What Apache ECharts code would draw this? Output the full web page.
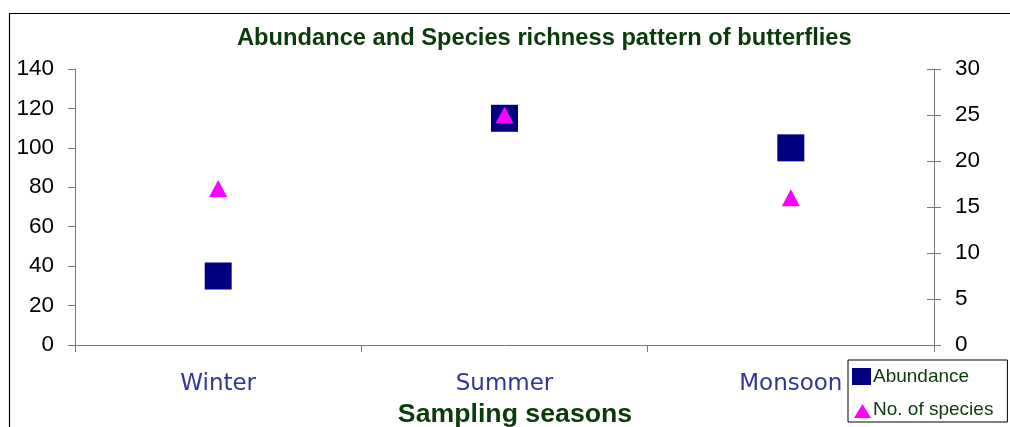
<!DOCTYPE html>
<html>
<head>
<meta charset="utf-8">
<style>
  html, body { margin: 0; padding: 0; background: #ffffff; }
  #chart { width: 1010px; height: 427px; }
</style>
<script src="https://cdn.jsdelivr.net/npm/echarts@6/dist/echarts.min.js"></script>
</head>
<body>
<div id="chart"></div>
<script>
// Sampling seasons and the two measured quantities
const seasons = ['Winter', 'Summer', 'Monsoon'];
const abundance = [35, 115, 100];        // left axis
const speciesCount = [17, 25, 16];       // right axis
const leftTicks = { min: 0, max: 140, interval: 20 };
const rightTicks = { min: 0, max: 30, interval: 5 };

const chart = echarts.init(document.getElementById('chart'));

const axisGray = '#777777';
const darkGreen = '#0b3b0b';

chart.setOption({
  animation: false,
  backgroundColor: '#ffffff',
  title: {
    text: 'Abundance and Species richness pattern of butterflies',
    left: 237,
    top: 26,
    padding: 0,
    textStyle: {
      fontFamily: 'Liberation Sans, Arial, sans-serif',
      fontWeight: 'bold',
      fontSize: 23.7,
      color: darkGreen
    }
  },
  graphic: [{
    type: 'rect',
    shape: { x: 9.5, y: 13.5, width: 1010, height: 430 },
    style: { fill: 'none', stroke: '#000000', lineWidth: 1.2 },
    silent: true,
    z: -1
  }],
  legend: {
    orient: 'vertical',
    left: 848,
    top: 360,
    padding: [7, 14, 3, 4],
    itemGap: 14,
    itemWidth: 19,
    itemHeight: 17,
    borderColor: '#000000',
    borderWidth: 1,
    backgroundColor: '#ffffff',
    textStyle: {
      fontFamily: 'Liberation Sans, Arial, sans-serif',
      fontSize: 19,
      color: '#0b3b0b',
      padding: [0, 0, 0, -3]
    },
    data: [
      { name: 'Abundance', icon: 'rect' },
      { name: 'No. of species', icon: 'path://M0,0M19,17M2,17L10.5,3L19,17Z' }
    ]
  },
  grid: { left: 75, right: 76, top: 69, bottom: 82, containLabel: false, outerBoundsMode: 'none' },
  xAxis: {
    type: 'category',
    data: seasons,
    boundaryGap: true,
    name: 'Sampling seasons',
    nameLocation: 'middle',
    nameGap: 55,
    nameTextStyle: {
      fontFamily: 'Liberation Sans, Arial, sans-serif',
      fontWeight: 'bold',
      fontSize: 26.7,
      color: darkGreen,
      padding: [0, 0, 0, 21]
    },
    axisLine: { lineStyle: { color: axisGray, width: 1 } },
    axisTick: { show: true, inside: false, length: 7, alignWithLabel: false, interval: 0, lineStyle: { color: axisGray } },
    axisLabel: {
      margin: 28,
      fontFamily: 'DejaVu Sans, Verdana, sans-serif',
      fontSize: 23,
      color: '#333399'
    },
    splitLine: { show: false }
  },
  yAxis: [
    {
      type: 'value',
      position: 'left',
      min: leftTicks.min,
      max: leftTicks.max,
      interval: leftTicks.interval,
      axisLine: { show: true, lineStyle: { color: axisGray } },
      axisTick: { show: true, inside: false, length: 7, lineStyle: { color: axisGray } },
      axisLabel: {
        margin: 21,
        fontFamily: 'Liberation Sans, Arial, sans-serif',
        fontSize: 22.5,
        color: '#000000'
      },
      splitLine: { show: false }
    },
    {
      type: 'value',
      position: 'right',
      min: rightTicks.min,
      max: rightTicks.max,
      interval: rightTicks.interval,
      axisLine: { show: true, lineStyle: { color: axisGray } },
      axisTick: { show: true, inside: false, length: 7, lineStyle: { color: axisGray } },
      axisLabel: {
        margin: 21,
        fontFamily: 'Liberation Sans, Arial, sans-serif',
        fontSize: 22.5,
        color: '#000000'
      },
      splitLine: { show: false }
    },
    {
      // inner half of the crossing ticks on the right axis
      type: 'value',
      position: 'right',
      min: rightTicks.min,
      max: rightTicks.max,
      interval: rightTicks.interval,
      axisLine: { show: false },
      axisTick: { show: true, inside: true, length: 7, lineStyle: { color: axisGray } },
      axisLabel: { show: false },
      splitLine: { show: false }
    }
  ],
  series: [
    {
      name: 'Abundance',
      type: 'scatter',
      yAxisIndex: 0,
      data: abundance,
      symbol: 'rect',
      symbolSize: 27,
      itemStyle: { color: '#000080', opacity: 1 },
      z: 2
    },
    {
      name: 'No. of species',
      type: 'scatter',
      yAxisIndex: 1,
      data: speciesCount,
      symbol: 'triangle',
      symbolSize: [18, 17],
      itemStyle: { color: '#ff00ff', opacity: 1 },
      z: 3
    }
  ]
});
</script>
</body>
</html>
